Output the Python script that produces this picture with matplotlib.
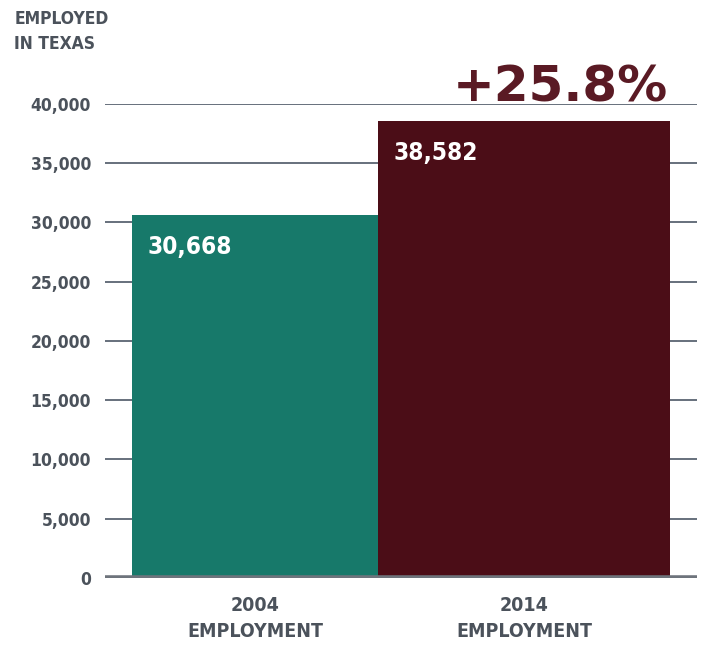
import matplotlib
matplotlib.use('Agg')
import matplotlib.pyplot as plt

years = ['2004', '2014']
employed = [30668, 38582]
value_labels = ['30,668', '38,582']
change_label = '+25.8%'
y_ticks = [0, 5000, 10000, 15000, 20000, 25000, 30000, 35000, 40000]
y_tick_labels = ['0', '5,000', '10,000', '15,000', '20,000', '25,000',
                 '30,000', '35,000', '40,000']

teal = '#17796a'
maroon = '#4b0d17'
grey_text = '#4b525b'
grid_col = '#5a6472'

plt.rcParams['font.family'] = ['DejaVu Sans']
plt.rcParams['font.stretch'] = 'condensed'
plt.rcParams['font.weight'] = 'bold'

fig = plt.figure(figsize=(7.07, 6.45), dpi=100)
ax = fig.add_axes([0.1485, 0.1039, 0.8375, 0.7349])

# bar layout in axes units (0..1 across the plot width)
lefts = [0.0456, 0.4612]
widths = [0.4156, 0.4932]
colors = [teal, maroon]

ax.set_xlim(0, 1)
ax.set_ylim(0, 40000)

for yt in y_ticks[1:]:
    ax.axhline(yt, color=grid_col, lw=1.3, zorder=1)
ax.axhline(0, color='#6e747c', lw=4, zorder=4)

ax.bar(lefts, employed, width=widths, align='edge', color=colors, zorder=2)

for left, val, lab in zip(lefts, employed, value_labels):
    ax.text(left + 0.026, val - 2700, lab, color='white', fontsize=17.5,
            fontweight='bold', va='center', ha='left', zorder=5)

ax.text(lefts[1] + widths[1] - 0.003, 200 + 40000, change_label, color='#5a1a24',
        fontsize=36, fontweight='heavy', ha='right', va='baseline',
        fontstretch='normal', clip_on=False)

ax.set_yticks(y_ticks)
ax.set_yticklabels(y_tick_labels, fontsize=12.5, color=grey_text, fontweight='bold')
centers = [l + w / 2 for l, w in zip(lefts, widths)]
ax.set_xticks(centers)
ax.set_xticklabels([y + '\nEMPLOYMENT' for y in years], fontsize=14,
                   color=grey_text, fontweight='bold', linespacing=1.45)
ax.tick_params(axis='y', length=0, pad=10)
ax.tick_params(axis='x', length=0, pad=13)
for s in ax.spines.values():
    s.set_visible(False)

fig.text(0.02, 0.985, 'EMPLOYED\nIN TEXAS', fontsize=12.5, color=grey_text,
         fontweight='bold', ha='left', va='top', linespacing=1.5)

fig.savefig('out.png', dpi=100)
